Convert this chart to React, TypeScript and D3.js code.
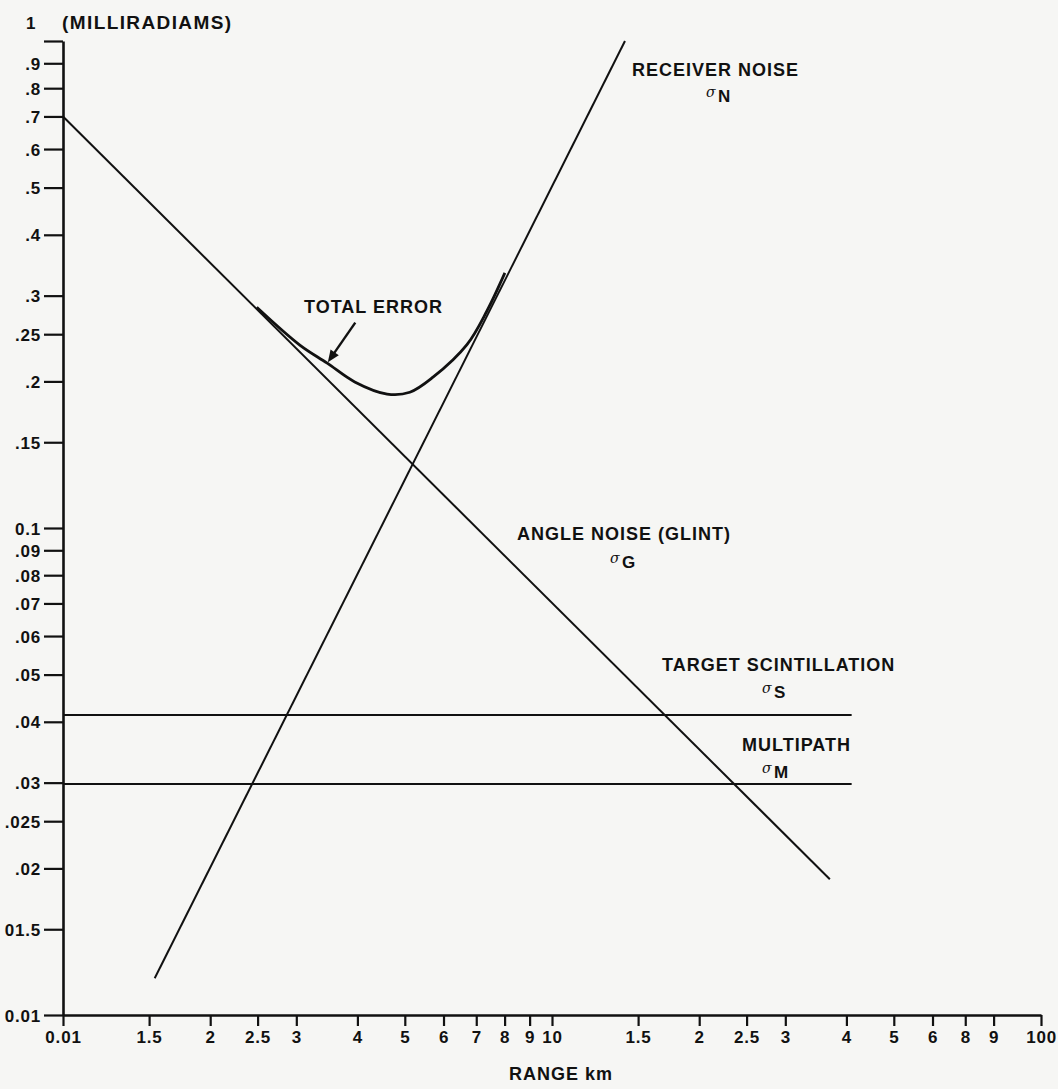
import React, { useEffect, useRef } from 'react';
import * as d3 from 'd3';

// tick values and their printed labels (labels copied as printed, quirks included)
const yTicks = [1, 0.9, 0.8, 0.7, 0.6, 0.5, 0.4, 0.3, 0.25, 0.2, 0.15, 0.1, 0.09, 0.08, 0.07, 0.06, 0.05, 0.04, 0.03, 0.025, 0.02, 0.015, 0.01];
const yLabels = ['', '.9', '.8', '.7', '.6', '.5', '.4', '.3', '.25', '.2', '.15', '0.1', '.09', '.08', '.07', '.06', '.05', '.04', '.03', '.025', '.02', '01.5', '0.01'];
const xTicks = [1, 1.5, 2, 2.5, 3, 4, 5, 6, 7, 8, 9, 10, 15, 20, 25, 30, 40, 50, 60, 70, 80, 100];
const xLabels = ['0.01', '1.5', '2', '2.5', '3', '4', '5', '6', '7', '8', '9', '10', '1.5', '2', '2.5', '3', '4', '5', '6', '8', '9', '100'];

// straight components (range km, milliradians)
const glintRange = [1, 37];
const glintValue = [0.7, 0.019];
const receiverRange = [1.54, 14.1];
const receiverValue = [0.0119, 1.0];
const scintRange = [1, 41];
const scintValue = [0.0413, 0.0413];
const multipathRange = [1, 41];
const multipathValue = [0.0298, 0.0298];

// total error curve
const totalRange = [2.49, 3.05, 3.47, 3.95, 4.6, 5.12, 5.71, 6.7, 7.36, 8.01];
const totalValue = [0.284, 0.2375, 0.218, 0.1995, 0.1884, 0.19, 0.204, 0.238, 0.279, 0.334];

const FONT = '"Liberation Sans", Arial, Helvetica, sans-serif';

const App = () => {
    const ref = useRef<SVGSVGElement | null>(null);

    useEffect(() => {
        const svg = d3.select(ref.current);
        svg.selectAll('*').remove();

        const x = d3.scaleLog().domain([1, 100]).range([63, 1041]);
        const y = d3.scaleLog().domain([0.01, 1]).range([1015, 41]);

        svg.append('rect').attr('width', 1058).attr('height', 1089).attr('fill', '#f6f6f4');

        // axes
        const yAxis = svg.append('g')
            .attr('transform', 'translate(63,0)')
            .call(d3.axisLeft(y).tickValues(yTicks).tickFormat((d, i) => yLabels[i]).tickSize(19).tickPadding(3).tickSizeOuter(0));
        const xAxis = svg.append('g')
            .attr('transform', 'translate(0,1015)')
            .call(d3.axisBottom(x).tickValues(xTicks).tickFormat((d, i) => xLabels[i]).tickSize(11).tickPadding(5).tickSizeOuter(0));
        [yAxis, xAxis].forEach(g => {
            g.select('.domain').attr('stroke', '#111').attr('stroke-width', 2.6);
            g.selectAll('.tick line').attr('stroke', '#111').attr('stroke-width', 2.2);
            g.selectAll('.tick text')
                .attr('fill', '#111')
                .style('font-family', FONT)
                .style('font-size', '17px')
                .style('font-weight', 'bold')
                .style('letter-spacing', '0.8px');
        });
        yAxis.selectAll('.tick text').attr('dy', '0.36em');

        const pair = (r: number[], v: number[]) => r.map((d, i) => [d, v[i]] as [number, number]);
        const line = d3.line<[number, number]>().x(d => x(d[0])).y(d => y(d[1]));

        const straight = [
            pair(glintRange, glintValue),
            pair(receiverRange, receiverValue),
            pair(scintRange, scintValue),
            pair(multipathRange, multipathValue),
        ];
        svg.append('g').selectAll('path').data(straight).join('path')
            .attr('d', d => line(d))
            .attr('fill', 'none')
            .attr('stroke', '#111')
            .attr('stroke-width', 2);

        svg.append('path')
            .datum(pair(totalRange, totalValue))
            .attr('d', line.curve(d3.curveCatmullRom))
            .attr('fill', 'none')
            .attr('stroke', '#111')
            .attr('stroke-width', 2.8);

        // arrow to total error
        const ax0 = x(3.96), ay0 = y(0.264), ax1 = x(3.48), ay1 = y(0.219);
        const ang = Math.atan2(ay1 - ay0, ax1 - ax0);
        svg.append('line')
            .attr('x1', ax0).attr('y1', ay0)
            .attr('x2', ax1 - 8 * Math.cos(ang)).attr('y2', ay1 - 8 * Math.sin(ang))
            .attr('stroke', '#111').attr('stroke-width', 2.4);
        const head = [
            [ax1, ay1],
            [ax1 - 12 * Math.cos(ang) + 5 * Math.sin(ang), ay1 - 12 * Math.sin(ang) - 5 * Math.cos(ang)],
            [ax1 - 12 * Math.cos(ang) - 5 * Math.sin(ang), ay1 - 12 * Math.sin(ang) + 5 * Math.cos(ang)],
        ];
        svg.append('path').attr('d', 'M' + head.join('L') + 'Z').attr('fill', '#111');

        const txt = (tx: number, ty: number, s: string, size = 18, anchor = 'start', spacing = 1) =>
            svg.append('text')
                .attr('x', tx).attr('y', ty)
                .attr('text-anchor', anchor)
                .attr('fill', '#111')
                .style('font-family', FONT)
                .style('font-size', size + 'px')
                .style('font-weight', 'bold')
                .style('letter-spacing', spacing + 'px')
                .text(s);

        const sigma = (tx: number, ty: number, sub: string) => {
            svg.append('text')
                .attr('x', tx).attr('y', ty - 5)
                .attr('fill', '#111')
                .style('font-family', 'DejaVu Serif, serif')
                .style('font-style', 'italic')
                .style('font-size', '14px')
                .text('σ');
            txt(tx + 12, ty, sub, 17);
        };

        txt(26, 29, '1', 17);
        txt(62, 29, '(MILLIRADIAMS)', 19, 'start', 1.4);
        txt(632, 76, 'RECEIVER NOISE');
        sigma(706, 102, 'N');
        txt(304, 313, 'TOTAL ERROR');
        txt(517, 540, 'ANGLE NOISE (GLINT)');
        sigma(610, 568, 'G');
        txt(662, 671, 'TARGET SCINTILLATION');
        sigma(762, 698, 'S');
        txt(742, 751, 'MULTIPATH');
        sigma(762, 778, 'M');
        txt(561, 1080, 'RANGE km', 18, 'middle');
    }, []);

    return (
        <svg ref={ref} width={1058} height={1089} style={{ position: 'absolute', left: 0, top: 0 }} />
    );
};

export default App;
